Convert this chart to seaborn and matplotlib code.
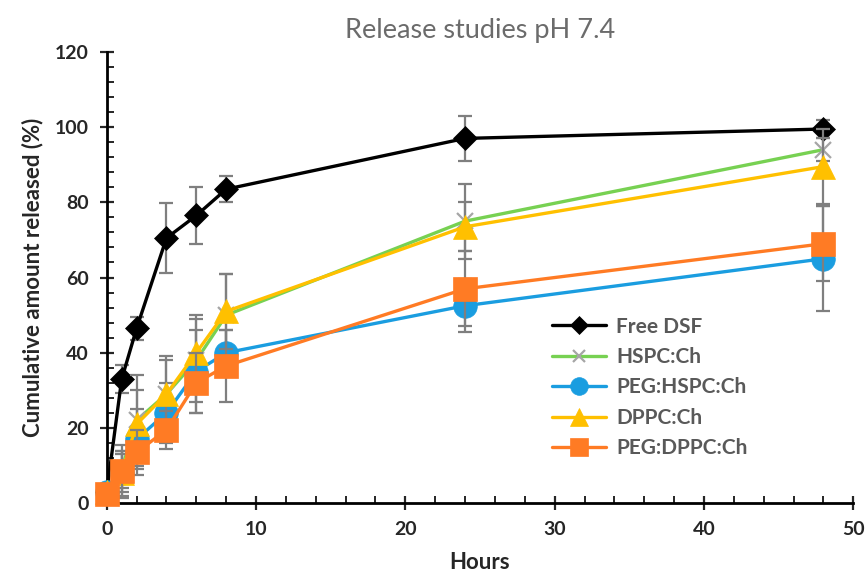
import numpy as np
import pandas as pd
import matplotlib
matplotlib.use('Agg')
import matplotlib.pyplot as plt
import seaborn as sns
from matplotlib.ticker import MultipleLocator

# -----------------------------
# Data
# -----------------------------
hours = [0, 1, 2, 4, 6, 8, 24, 48]

free_dsf = [3, 33, 46.5, 70.5, 76.5, 83.5, 97, 99.5]
hspc_ch = [3, 9, 22, 29, 38, 50, 75, 94]
peg_hspc_ch = [3, 8, 17, 24, 35, 40, 52.5, 65]
dppc_ch = [3, 8, 21, 29, 40, 51, 73.5, 89.5]
peg_dppc_ch = [2.5, 8.5, 13.5, 19.5, 32, 36.5, 57, 69]

free_err = [1, 3.7, 3, 9.3, 7.5, 3.5, 6, 2.5]
hspc_err = [1, 5, 12, 10, 11, 11, 10, 3]
peg_hspc_err = [1, 5, 8, 8, 11, 6, 7, 14]
dppc_err = [1, 6, 9, 9, 10, 10, 6.5, 10]
peg_dppc_err = [1, 7, 6, 5, 8, 9.5, 10, 10]

labels = ['Free DSF', 'HSPC:Ch', 'PEG:HSPC:Ch', 'DPPC:Ch', 'PEG:DPPC:Ch']
values = [free_dsf, hspc_ch, peg_hspc_ch, dppc_ch, peg_dppc_ch]
errors = [free_err, hspc_err, peg_hspc_err, dppc_err, peg_dppc_err]

line_colors = ['#000000', '#77d152', '#1a9de0', '#ffc000', '#ff7b24']
marker_colors = ['#000000', '#a6a6a6', '#1a9de0', '#ffc000', '#ff7b24']
markers = ['D', 'x', 'o', '^', 's']
msizes = [12, 12, 17, 17, 17]

# -----------------------------
# Style
# -----------------------------
sns.set_style('ticks')
plt.rcParams['font.family'] = ['Lato', 'DejaVu Sans']

fig = plt.figure(figsize=(8.68, 5.77), dpi=100)
ax = fig.add_axes([0.123, 0.128, 0.86, 0.782])

# -----------------------------
# Plot
# -----------------------------
for i, (lab, vals, errs) in enumerate(zip(labels, values, errors)):
    df = pd.DataFrame({'Hours': hours, 'Released': vals})
    eb = ax.errorbar(hours, vals, yerr=errs, fmt='none', ecolor='#7f7f7f',
                     elinewidth=1.6, capsize=5, capthick=1.6, zorder=2 + i * 2)
    for art in eb.lines[1] + eb.lines[2]:
        art.set_clip_on(False)
    sns.lineplot(data=df, x='Hours', y='Released', ax=ax, label=lab,
                 color=line_colors[i], linewidth=2.4, marker=markers[i],
                 markersize=msizes[i], markerfacecolor=marker_colors[i],
                 markeredgecolor=marker_colors[i],
                 markeredgewidth=1.6 if markers[i] == 'x' else 0.5,
                 zorder=3 + i * 2, clip_on=False)

ax.set_xlim(0, 50)
ax.set_ylim(0, 120)
ax.xaxis.set_major_locator(MultipleLocator(10))
ax.xaxis.set_minor_locator(MultipleLocator(2))
ax.yaxis.set_major_locator(MultipleLocator(20))
ax.yaxis.set_minor_locator(MultipleLocator(4))
ax.tick_params(which='major', direction='inout', length=10, width=1.6,
               labelsize=14, pad=8)
ax.tick_params(which='minor', direction='in', length=5, width=1.4)
for lab in ax.get_xticklabels() + ax.get_yticklabels():
    lab.set_fontweight('bold')

for side in ['top', 'right']:
    ax.spines[side].set_visible(False)
for side in ['left', 'bottom']:
    ax.spines[side].set_linewidth(2)
    ax.spines[side].set_color('black')

ax.set_xlabel('Hours', fontsize=16, fontweight='bold', labelpad=10)
ax.set_ylabel('Cumulative amount released (%)', fontsize=16,
              fontweight='bold', labelpad=8)
ax.set_title('Release studies pH 7.4', fontsize=19.5, color='#6b6b6b', pad=10)

leg = ax.legend(loc='upper left', bbox_to_anchor=(0.585, 0.432), frameon=False,
                fontsize=15, handlelength=2.6, labelspacing=0.5,
                handletextpad=0.5, borderaxespad=0)
for t in leg.get_texts():
    t.set_fontweight('bold')
    t.set_color('#595959')
for h in leg.legend_handles:
    h.set_markersize(h.get_markersize() * 0.75)

fig.savefig('out.png', dpi=100)
